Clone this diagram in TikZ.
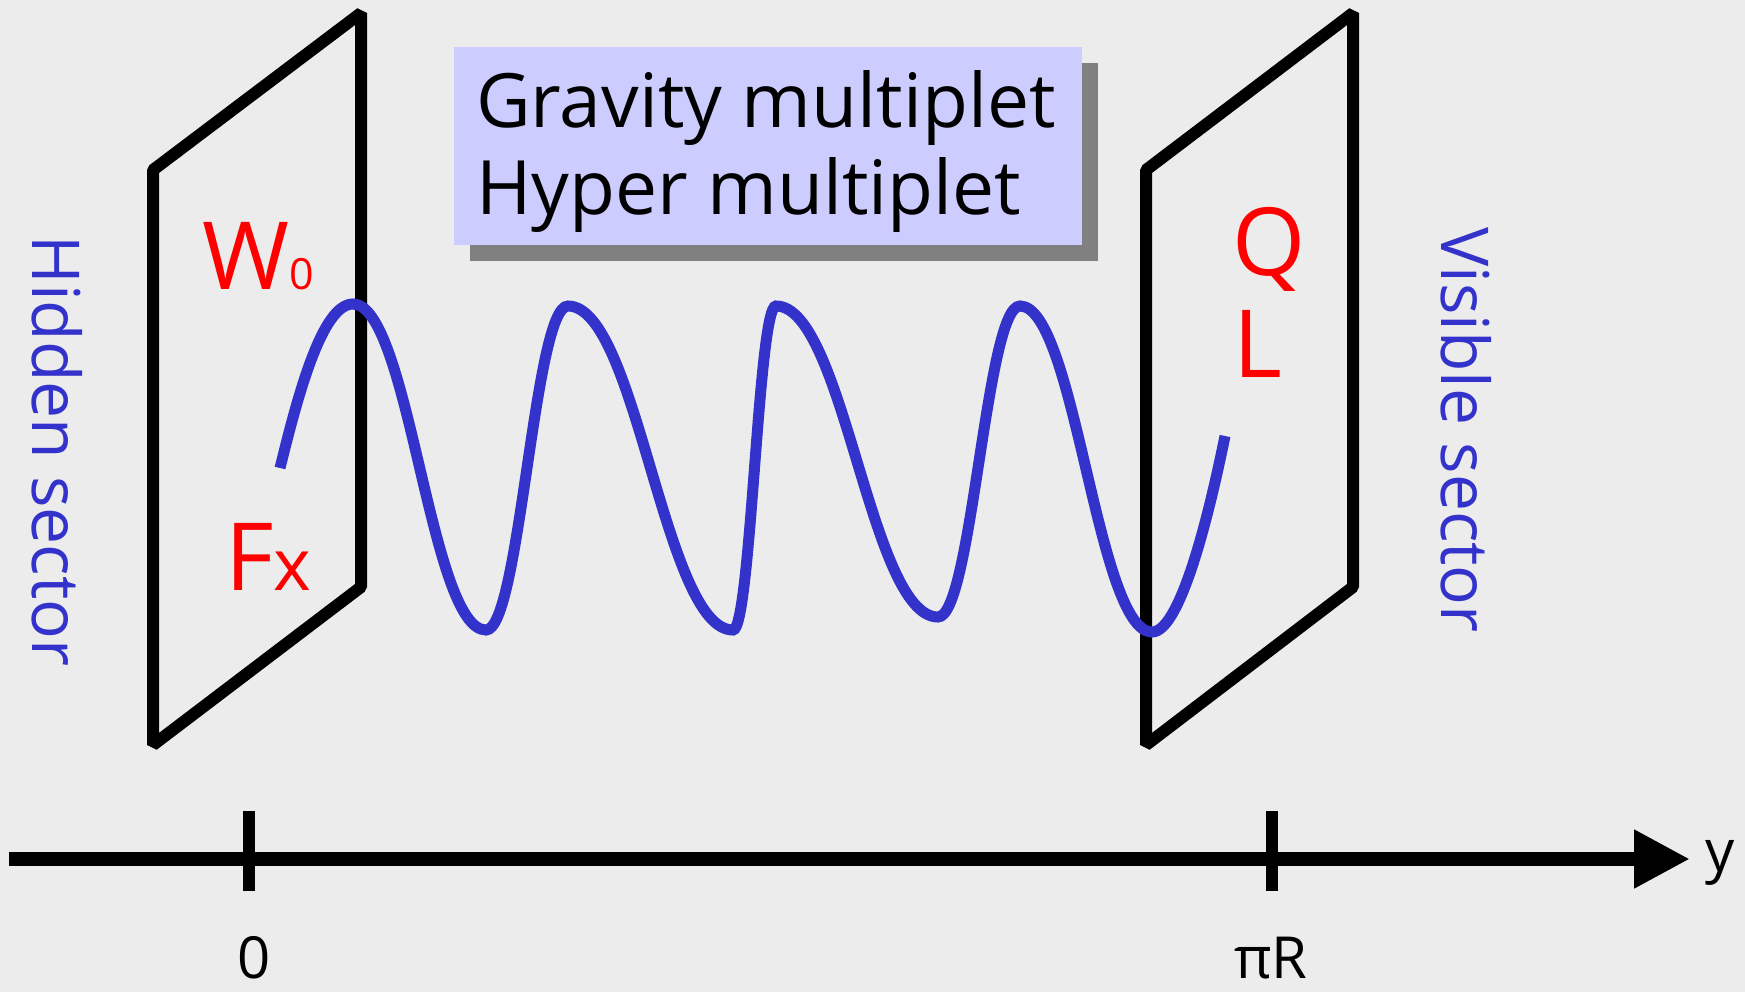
\documentclass[tikz,border=0pt]{standalone}
\usepackage{fontspec}
\setmainfont{Open Sans}
\usetikzlibrary{arrows.meta}
\definecolor{bg}{RGB}{236,236,236}
\definecolor{boxfill}{RGB}{204,204,255}
\definecolor{shadowgray}{RGB}{128,128,128}
\definecolor{wavecol}{RGB}{51,51,204}
\definecolor{labred}{RGB}{255,0,0}
\begin{document}
\begin{tikzpicture}[x=1pt,y=-1pt,
  plane/.style={line width=12pt, line join=bevel},
  wavestyle/.style={draw=wavecol, line width=11pt, line cap=butt},
  boxtext/.style={anchor=base west, inner sep=0pt, font=\fontsize{75}{87}\selectfont},
  redlab/.style={anchor=base west, inner sep=0pt, text=labred, font=\fontsize{94}{94}\selectfont},
  sector/.style={inner sep=0pt, text=wavecol, rotate=-90, font=\fontsize{66}{66}\selectfont},
  axislab/.style={anchor=base, inner sep=0pt, font=\fontsize{58}{58}\selectfont},
  axisline/.style={line width=14pt, -{Triangle[length=56pt,width=55pt]}},
  tick/.style={line width=12pt}]
\useasboundingbox (0,0) rectangle (1745,992);
\fill[bg] (0,0) rectangle (1745,992);

% left brane
\draw[plane] (153,170) -- (361,13) -- (361,587) -- (153,745) -- cycle;
% right brane
\draw[plane] (1146,170) -- (1353,13) -- (1353,587) -- (1146,745) -- cycle;

% box with shadow
\fill[shadowgray] (470,63) rectangle (1098,261);
\fill[boxfill] (454,47) rectangle (1082,245);
\node[boxtext] (grav) at (476,128) {Gravity multiplet};
\node[boxtext] (hyper) at (476,215) {Hyper multiplet};

% wave
\draw[wavestyle] (280,468)
  .. controls (298,395) and (322,304) .. (353,304)
  .. controls (409,304) and (430,630) .. (486,630)
  .. controls (520,630) and (534,306) .. (568,306)
  .. controls (637,306) and (664,630) .. (733,630)
  .. controls (751,630) and (758,306) .. (776,306)
  .. controls (844,306) and (870,617) .. (938,617)
  .. controls (972,617) and (986,306) .. (1020,306)
  .. controls (1075,306) and (1097,632) .. (1152,632)
  .. controls (1182,632) and (1212,500) .. (1225,436);

% brane labels
\node[redlab] (W) at (202,290) {W{\fontsize{43}{43}\selectfont 0}};
\node[redlab] (F) at (225,590) {F{\fontsize{72}{72}\selectfont x}};
\node[redlab] (Q) at (1232,276) {Q};
\node[redlab] (L) at (1233,377) {L};

% sector labels
\node[sector] (hidden) at (57,451) {Hidden sector};
\node[sector] (visible) at (1466,430) {Visible sector};

% axis
\coordinate (axstart) at (9,859);
\coordinate (axend) at (1690,859);
\draw[axisline] (axstart) -- (axend);
\coordinate (t0a) at (249,811);
\coordinate (t0b) at (249,891);
\coordinate (t1a) at (1272,811);
\coordinate (t1b) at (1272,891);
\draw[tick] (t0a) -- (t0b);
\draw[tick] (t1a) -- (t1b);
\node[axislab] (zero) at (254,978) {0};
\node[axislab] (piR) at (1271,978) {πR};
\node[axislab, anchor=base west] (ylab) at (1705,871) {y};
\end{tikzpicture}
\end{document}
